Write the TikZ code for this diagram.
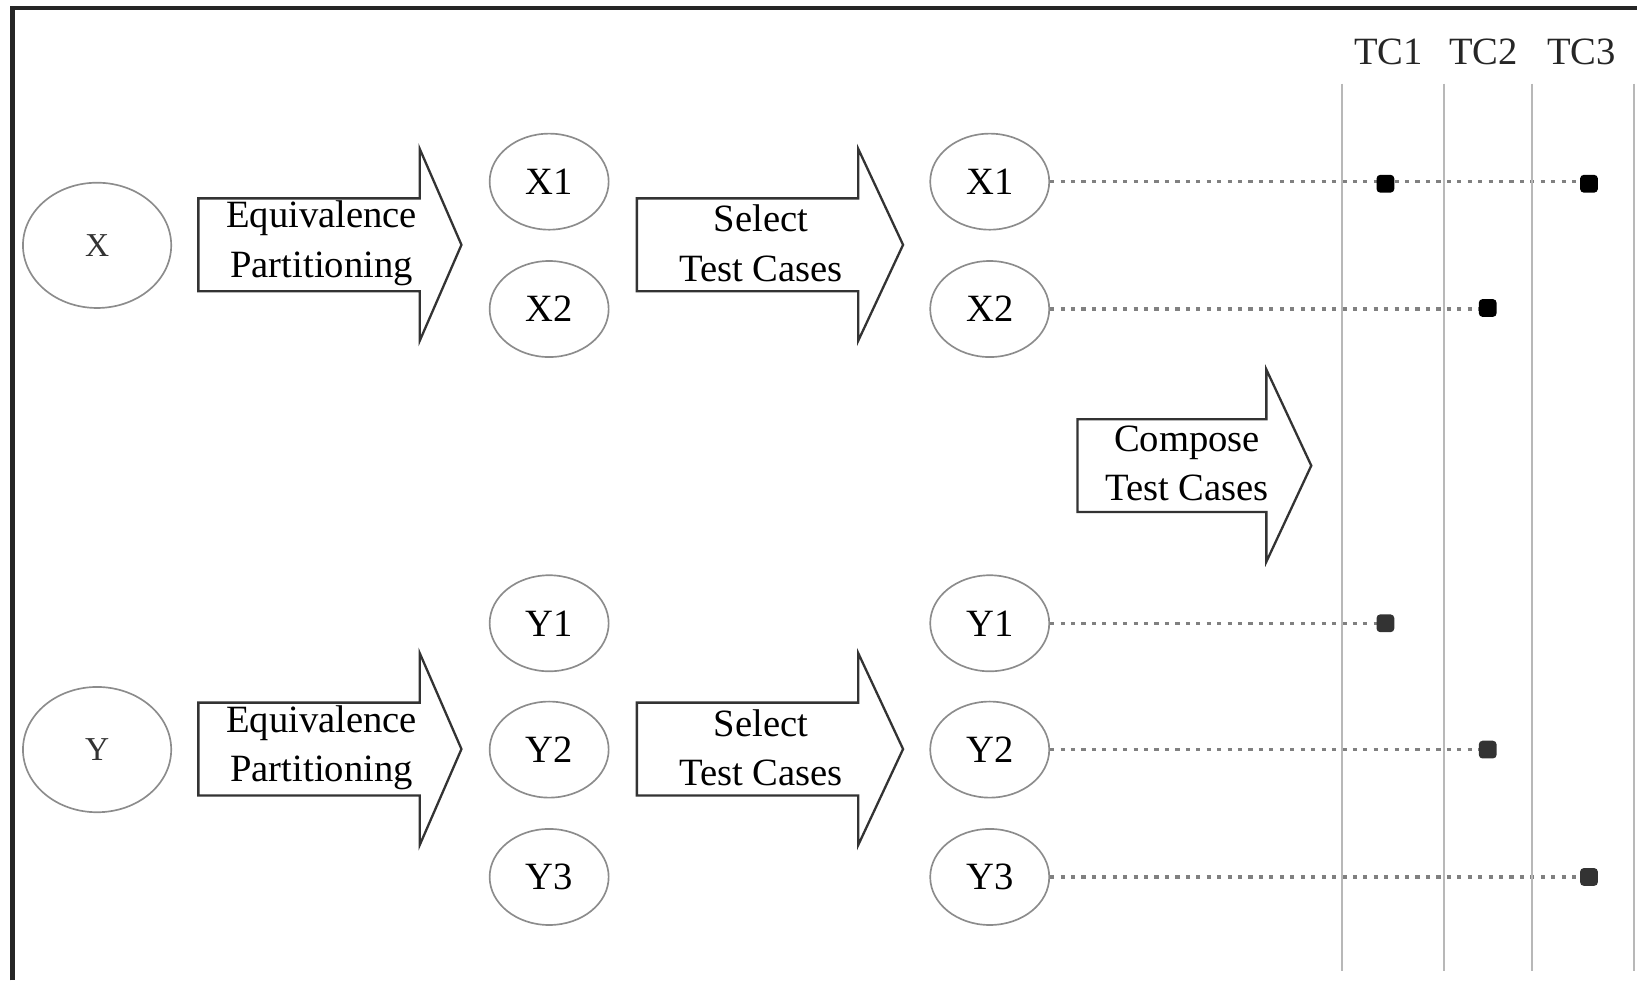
\documentclass[tikz,border=0pt]{standalone}
\usepackage{fontspec}
\setmainfont{Liberation Serif}
\usetikzlibrary{shapes.geometric,backgrounds}
\tikzset{
  ell/.style={ellipse,draw=black!45,line width=1.6pt,inner sep=0pt,minimum width=114pt,minimum height=92pt,font=\fontsize{37}{44}\selectfont},
  bigell/.style={ellipse,draw=black!45,line width=1.6pt,inner sep=0pt,minimum width=142pt,minimum height=120pt,font=\fontsize{32}{38}\selectfont,text=black!80},
  arrowline/.style={draw=black!80,line width=2.2pt,line join=miter,fill=white},
  arrowtext/.style={align=center,font=\fontsize{37}{47}\selectfont,inner sep=0pt},
  dotline/.style={draw=black!50,line width=3pt,dash pattern=on 4pt off 6pt},
  dotmark/.style={rectangle,rounded corners=3.5pt,minimum size=17pt,inner sep=0pt},
  gridline/.style={draw=black!28,line width=2pt},
  tclabel/.style={font=\fontsize{37}{44}\selectfont,text=black!85}
}
\newcommand\barrow[4]{\draw[arrowline] (#1,#4-44.5) -- (#2,#4-44.5) -- (#2,#4-92) -- (#3,#4) -- (#2,#4+92) -- (#2,#4+44.5) -- (#1,#4+44.5) -- cycle;}
\begin{document}
\begin{tikzpicture}[x=1pt,y=-1pt]
\useasboundingbox (0,0) rectangle (1568,939);
% frame
\draw[black!85,line width=4pt] (12,939) -- (12,8) -- (1568,8);
% grid lines
\draw[gridline] (1285,80) -- (1285,930);
\draw[gridline] (1383,80) -- (1383,930);
\draw[gridline] (1467,80) -- (1467,930);
\draw[gridline] (1565,80) -- (1565,930);
% TC labels
\node[tclabel] (tc1) at (1330,50) {TC1};
\node[tclabel] (tc2) at (1421,50) {TC2};
\node[tclabel] (tc3) at (1515,50) {TC3};
% big ellipses
\node[bigell] (X) at (93,235) {X};
\node[bigell] (Y) at (93,718) {Y};
% block arrows
\barrow{190}{402}{442}{234.5}
\node[arrowtext] (ep1) at (308,233) {Equivalence\\Partitioning};
\barrow{610}{822}{865}{234.5}
\node[arrowtext] (st1) at (729,233) {Select\\Test Cases};
\barrow{190}{402}{442}{717.5}
\node[arrowtext] (ep2) at (308,716) {Equivalence\\Partitioning};
\barrow{610}{822}{865}{717.5}
\node[arrowtext] (st2) at (729,716) {Select\\Test Cases};
\barrow{1032}{1213}{1256}{446}
\node[arrowtext] (ct) at (1137,444) {Compose\\Test Cases};
% partition ellipses
\node[ell] (X1a) at (526,174) {X1};
\node[ell] (X2a) at (526,296) {X2};
\node[ell] (Y1a) at (526,597) {Y1};
\node[ell] (Y2a) at (526,718) {Y2};
\node[ell] (Y3a) at (526,840) {Y3};
\node[ell] (X1b) at (948,174) {X1};
\node[ell] (X2b) at (948,296) {X2};
\node[ell] (Y1b) at (948,597) {Y1};
\node[ell] (Y2b) at (948,718) {Y2};
\node[ell] (Y3b) at (948,840) {Y3};
% dots
\node[dotmark,fill=black] (dx11) at (1327,176) {};
\node[dotmark,fill=black] (dx13) at (1522,176) {};
\node[dotmark,fill=black] (dx22) at (1425,295) {};
\node[dotmark,fill=black!80] (dy11) at (1327,597) {};
\node[dotmark,fill=black!80] (dy22) at (1425,718) {};
\node[dotmark,fill=black!80] (dy33) at (1522,840) {};
% dotted connectors
\begin{pgfonlayer}{background}
\draw[dotline] (X1b.east) -- (X1b.east -| dx13.center);
\draw[dotline] (X2b.east) -- (X2b.east -| dx22.center);
\draw[dotline] (Y1b.east) -- (Y1b.east -| dy11.center);
\draw[dotline] (Y2b.east) -- (Y2b.east -| dy22.center);
\draw[dotline] (Y3b.east) -- (Y3b.east -| dy33.center);
\end{pgfonlayer}
\end{tikzpicture}
\end{document}
